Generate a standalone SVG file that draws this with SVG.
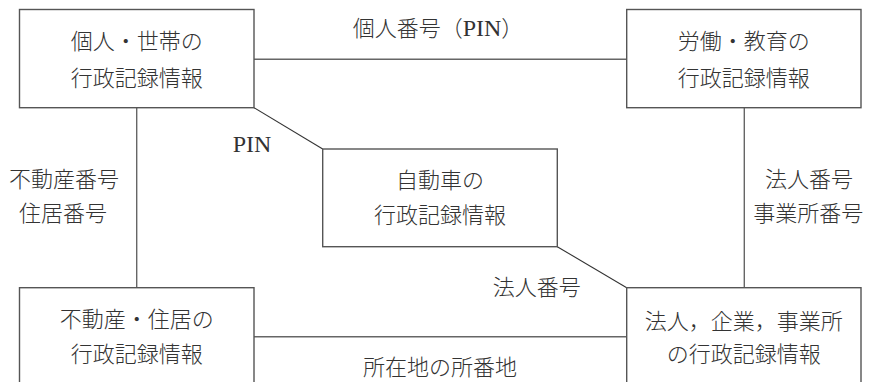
<svg xmlns="http://www.w3.org/2000/svg" width="871" height="382" viewBox="0 0 871 382">
<style>
.box{fill:#fff;stroke:#555;stroke-width:1.4}
.ln{fill:none;stroke:#666;stroke-width:1.4}
.dg{fill:none;stroke:#333;stroke-width:1.1}
text{font-family:"Liberation Serif","Noto Sans CJK JP",serif;font-size:22px;font-weight:300;fill:#333;text-anchor:middle}
.lat{font-size:24px}
</style>
<rect width="871" height="382" fill="#fff"/>
<g id="connectors">
<line class="ln" x1="254" y1="59.3" x2="626.7" y2="59.3"/>
<line class="ln" x1="136.7" y1="107.7" x2="136.7" y2="287.7"/>
<line class="ln" x1="744.3" y1="107.7" x2="744.3" y2="287.7"/>
<line class="ln" x1="254" y1="336.7" x2="626.7" y2="336.7"/>
<line class="dg" x1="254" y1="107.7" x2="322.7" y2="149"/>
<line class="dg" x1="557.3" y1="246.7" x2="626.7" y2="287.7"/>
<text x="438" y="36">個人番号（<tspan class="lat">PIN</tspan>）</text>
<text x="252" y="151.5" class="lat">PIN</text>
<text x="64" y="186.7">不動産番号</text>
<text x="63" y="221.4">住居番号</text>
<text x="809" y="186.5">法人番号</text>
<text x="808.3" y="221">事業所番号</text>
<text x="536.7" y="295">法人番号</text>
<text x="440" y="374.5">所在地の所番地</text>
</g>
<g id="node-personal">
<rect class="box" x="19.5" y="9.5" width="234.5" height="98.2"/>
<text x="136.7" y="48.5">個人・世帯の</text>
<text x="136.7" y="86">行政記録情報</text>
</g>
<g id="node-labor">
<rect class="box" x="626.7" y="9.5" width="234.3" height="98.2"/>
<text x="743.8" y="48.5">労働・教育の</text>
<text x="743.8" y="86">行政記録情報</text>
</g>
<g id="node-vehicle">
<rect class="box" x="322.7" y="149" width="234.6" height="97.7"/>
<text x="440" y="188.4">自動車の</text>
<text x="440" y="223.4">行政記録情報</text>
</g>
<g id="node-realestate">
<rect class="box" x="19.5" y="287.7" width="234.5" height="110"/>
<text x="136.7" y="326.7">不動産・住居の</text>
<text x="136.7" y="361.7">行政記録情報</text>
</g>
<g id="node-corporate">
<rect class="box" x="626.7" y="287.7" width="234.3" height="110"/>
<text x="743.8" y="329">法人，企業，事業所</text>
<text x="743.8" y="362">の行政記録情報</text>
</g>
</svg>
